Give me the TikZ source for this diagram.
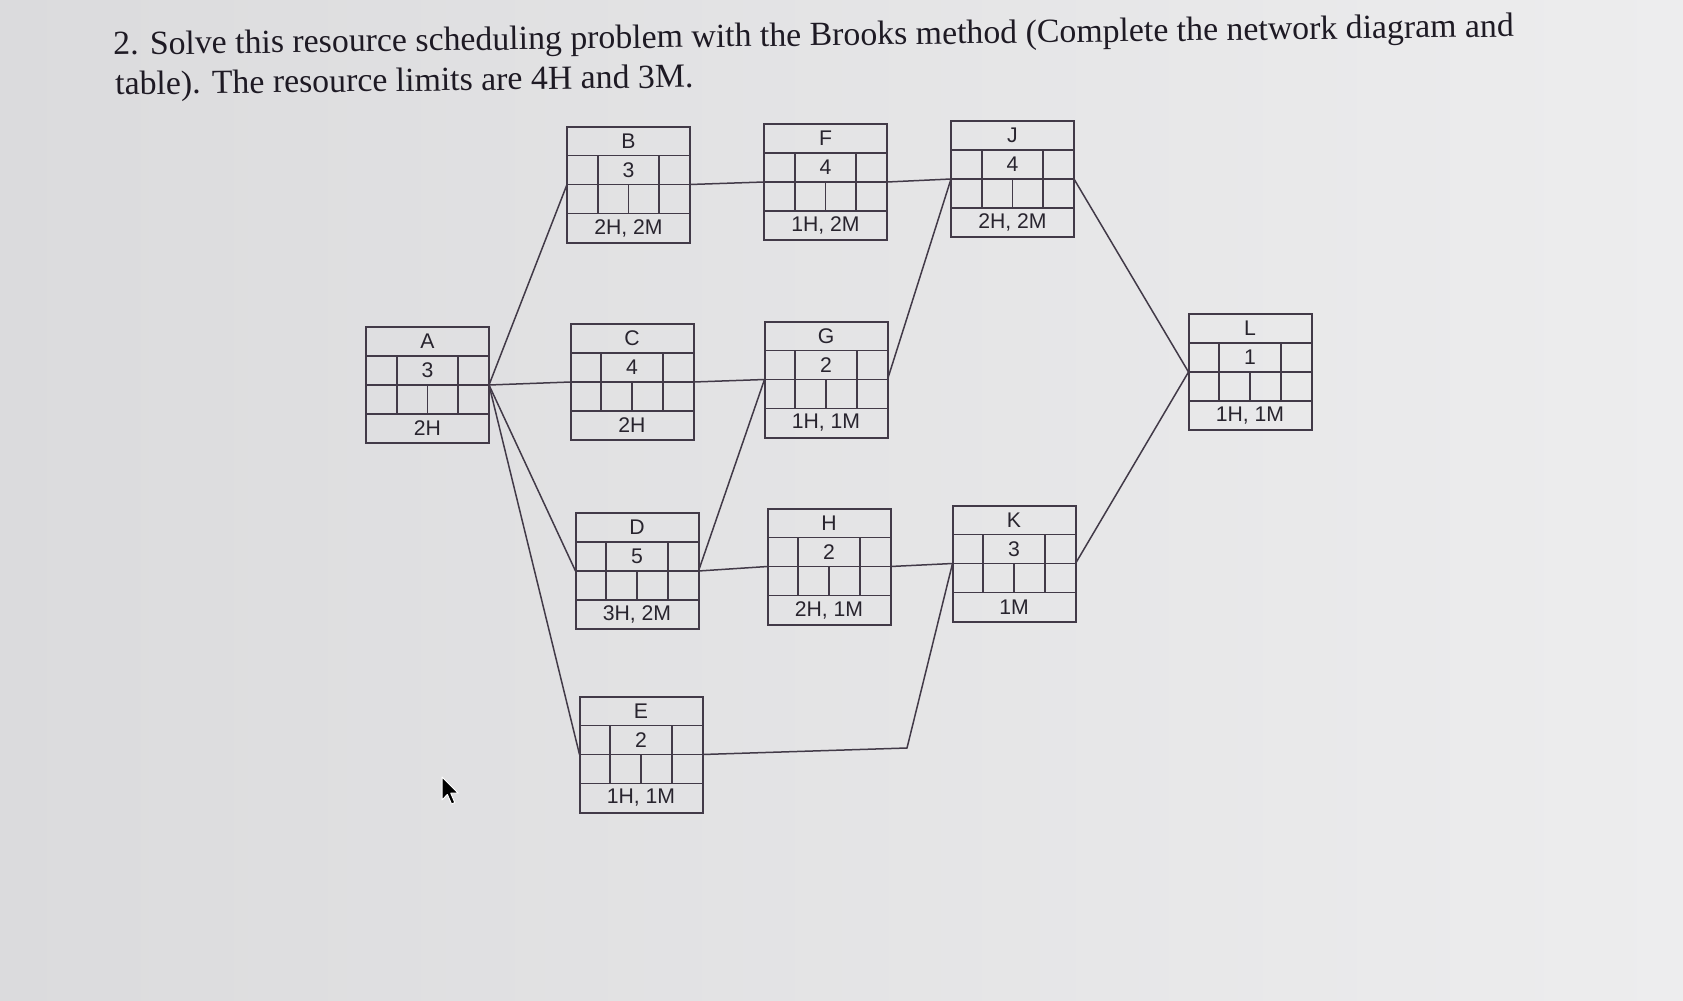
\documentclass[tikz,border=0pt]{standalone}
\usepackage{fontspec}
\setmainfont{Liberation Serif}
\newfontfamily\boxfont{Liberation Sans}
\usetikzlibrary{calc}
\definecolor{bgL}{RGB}{219,219,221}
\definecolor{bgR}{RGB}{237,237,238}
\definecolor{ink}{RGB}{66,58,72}
\definecolor{txt}{RGB}{40,36,46}
\definecolor{titlecol}{RGB}{30,26,36}
\tikzset{
  actbox/.style={draw=ink, line width=1pt, minimum width=61.5pt, minimum height=58pt, inner sep=0pt, outer sep=0pt},
  gridline/.style={draw=ink, line width=0.95pt},
  boxtext/.style={font=\boxfont\fontsize{10.6}{12}\selectfont, text=txt, inner sep=0pt},
  conn/.style={draw=ink, line width=0.75pt},
  titletext/.style={font=\fontsize{16.9}{20}\selectfont, text=titlecol, inner sep=0pt, anchor=base west, rotate=0.75}
}
\newcommand{\actbox}[6]{%
  \node[actbox] (#1) at (#2,#3) {};
  \begin{scope}[shift={(#2,#3)}]
    \draw[gridline] (-61.5,-29) -- (61.5,-29) (-61.5,0) -- (61.5,0) (-61.5,29) -- (61.5,29)
      (-30.75,-29) -- (-30.75,29) (30.75,-29) -- (30.75,29) (0,0) -- (0,29);
    \node[boxtext] (#1-name) at (0,-43.5) {#4};
    \node[boxtext] (#1-dur) at (0,-14.5) {#5};
    \node[boxtext] (#1-res) at (0,43.5) {#6};
  \end{scope}}
\begin{document}
\begin{tikzpicture}[x=0.5pt,y=-0.5pt]
\useasboundingbox (0,0) rectangle (1683,1001);
\shade[left color=bgL, right color=bgR] (0,0) rectangle (1683,1001);

\node[titletext] (title1) at (113,55) {2. Solve this resource scheduling problem with the Brooks method (Complete the network diagram and};
\node[titletext] (title2) at (115,95) {table). The resource limits are 4H and 3M.};

\actbox{A}{427.5}{385}{A}{3}{2H}
\actbox{B}{628.5}{184.5}{B}{3}{2H, 2M}
\actbox{C}{632}{382}{C}{4}{2H}
\actbox{D}{637}{571}{D}{5}{3H, 2M}
\actbox{E}{641}{754.5}{E}{2}{1H, 1M}
\actbox{F}{825.5}{182}{F}{4}{1H, 2M}
\actbox{G}{826}{379.5}{G}{2}{1H, 1M}
\actbox{H}{829}{566.5}{H}{2}{2H, 1M}
\actbox{J}{1012.5}{179}{J}{4}{2H, 2M}
\actbox{K}{1014}{563.5}{K}{3}{1M}
\actbox{L}{1250}{372}{L}{1}{1H, 1M}

\coordinate (ek) at (907,748);

\draw[conn] (A.east) -- (B.west);
\draw[conn] (A.east) -- (C.west);
\draw[conn] (A.east) -- (D.west);
\draw[conn] (A.east) -- (E.west);
\draw[conn] (B.east) -- (F.west);
\draw[conn] (C.east) -- (G.west);
\draw[conn] (D.east) -- (G.west);
\draw[conn] (D.east) -- (H.west);
\draw[conn] (E.east) -- (ek) -- (K.west);
\draw[conn] (H.east) -- (K.west);
\draw[conn] (F.east) -- (J.west);
\draw[conn] (G.east) -- (J.west);
\draw[conn] (J.east) -- (L.west);
\draw[conn] (K.east) -- (L.west);

\filldraw[fill=black, draw=white, line width=0.5pt, line join=round]
  (442,777) -- (442,800) -- (447.4,794.5) -- (451.5,804) -- (454.8,802.6) -- (450.8,793.2) -- (458.2,793.2) -- cycle;
\end{tikzpicture}
\end{document}
